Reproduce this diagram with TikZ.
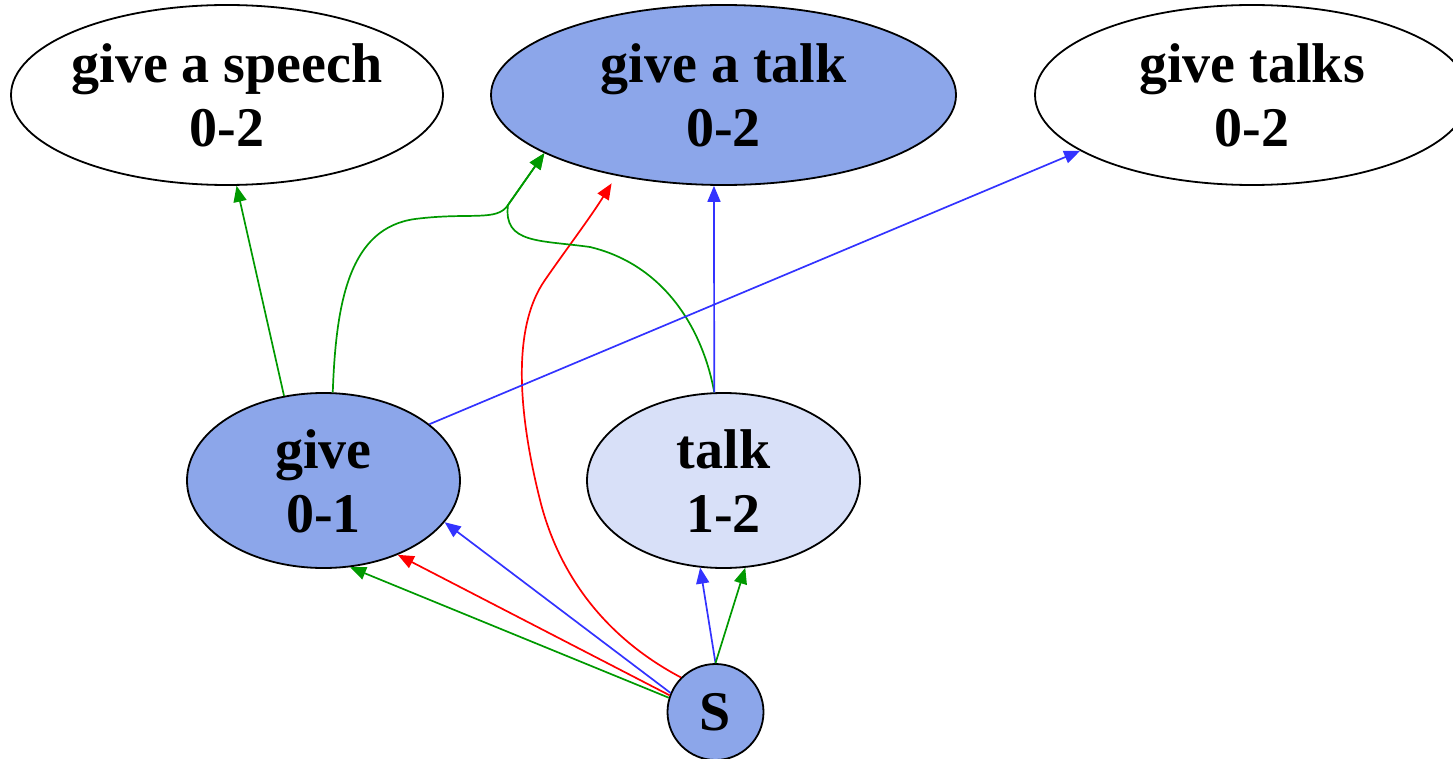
\documentclass[tikz,border=0pt]{standalone}
\usepackage{fontspec}
\setmainfont{Liberation Serif}
\usetikzlibrary{arrows.meta,shapes.geometric}
\definecolor{nodeblue}{RGB}{140,166,234}
\definecolor{nodepale}{RGB}{216,224,248}
\definecolor{eblue}{RGB}{51,51,255}
\definecolor{egreen}{RGB}{0,153,0}
\definecolor{ered}{RGB}{255,0,0}
\begin{document}
\begin{tikzpicture}[x=1pt,y=-1pt,
  bubble/.style={ellipse, draw=black, line width=1.8pt, inner sep=0pt},
  caption/.style={align=center, inner sep=0pt,
    font=\fontsize{56}{64}\selectfont\bfseries,
    text height=104pt, text depth=0pt},
  edge/.style={line width=1.7pt, -{Triangle[length=16pt,width=13pt]}},
]
\useasboundingbox (0,0) rectangle (1453,759);

% chart nodes
\node[bubble, fill=white, minimum width=432pt, minimum height=180pt] (speech) at (227,95) {};
\node[caption] (speech-t) at (speech.center) {give a speech\\0-2};
\node[bubble, fill=nodeblue, minimum width=465pt, minimum height=180pt] (gat) at (723.5,95) {};
\node[caption] (gat-t) at (gat.center) {give a talk\\0-2};
\node[bubble, fill=white, minimum width=434pt, minimum height=180pt] (talks) at (1252,95) {};
\node[caption] (talks-t) at (talks.center) {give talks\\0-2};
\node[bubble, fill=nodeblue, minimum width=273pt, minimum height=175pt] (give) at (323.5,480.5) {};
\node[caption] (give-t) at (give.center) {give\\0-1};
\node[bubble, fill=nodepale, minimum width=273pt, minimum height=175pt] (talk) at (723.5,480.5) {};
\node[caption] (talk-t) at (talk.center) {talk\\1-2};
\node[circle, draw=black, line width=1.8pt, fill=nodeblue, minimum size=96pt, inner sep=0pt,
  font=\fontsize{56}{64}\selectfont\bfseries] (S) at (715.5,712) {S};

% edges from the start symbol
\draw[edge, egreen] (S.163) -- (give.287);
\draw[edge, ered] (S.160) -- (give.315);
\draw[edge, eblue] (S.157) -- (give.341);
\draw[edge, eblue] (S.90) -- (talk.255);
\draw[edge, egreen] (S.90) -- (talk.284);
\draw[edge, ered, shorten >=9pt] (S.135) .. controls (610,640) and (560,580) .. (540,500)
  .. controls (520,420) and (510,330) .. (545,280)
  .. controls (565,251) and (590,218) .. (gat.217);

% edges from the word nodes
\draw[edge, egreen] (give.115) -- (speech.276);
\draw[edge, egreen] (give.84) .. controls (336,300) and (350,228) .. (415,219)
  .. controls (470,212) and (497,222) .. (508,205) -- (gat.198);
\draw[edge, egreen] (talk.96) .. controls (703,330) and (665,265) .. (590,247)
  .. controls (540,240) and (503,244) .. (508,205) -- (gat.198);
\draw[edge, eblue] (talk.96) -- (gat.264.2);
\draw[edge, eblue] (give.28) -- (talks.198.8);
\end{tikzpicture}
\end{document}
